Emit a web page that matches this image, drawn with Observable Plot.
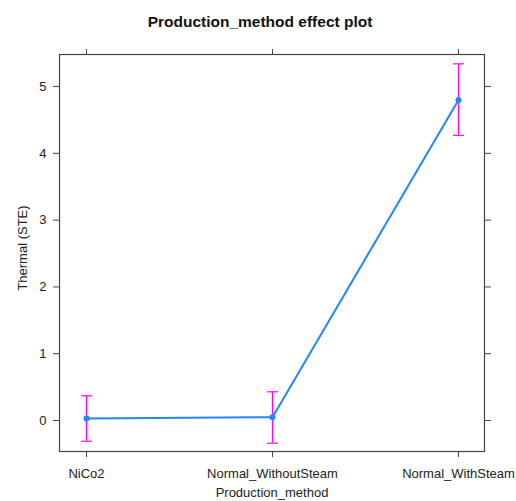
<!DOCTYPE html>
<html><head><meta charset="utf-8">
<script src="https://cdn.jsdelivr.net/npm/d3@7"></script>
<script src="https://cdn.jsdelivr.net/npm/@observablehq/plot@0.6"></script>
<style>
html,body{margin:0;padding:0;background:#fff;}
</style>
</head><body>
<div id="chart"></div>
<script>
const categories = ["NiCo2", "Normal_WithoutSteam", "Normal_WithSteam"];
const fitValues = [0.03, 0.05, 4.80];
const lowerValues = [-0.31, -0.34, 4.27];
const upperValues = [0.37, 0.43, 5.34];
const yTicks = [0, 1, 2, 3, 4, 5];

const data = categories.map((c, i) => ({method: c, fit: fitValues[i], lo: lowerValues[i], hi: upperValues[i]}));

const capSymbol = {draw(ctx, size) { const w = Math.sqrt(size / Math.PI); ctx.moveTo(-w, 0); ctx.lineTo(w, 0); }};

const axisColor = "#444";
const font = "Liberation Sans, Arial, sans-serif";

const chart = Plot.plot({
  width: 516,
  height: 501,
  marginLeft: 59,
  marginRight: 32,
  marginTop: 54,
  marginBottom: 50,
  style: {fontFamily: font, fontSize: "13px", color: "#222", background: "#fff"},
  x: {type: "point", domain: categories, padding: 0.138},
  y: {domain: [-0.464, 5.48]},
  marks: [
    Plot.frame({stroke: axisColor, strokeWidth: 1.2}),
    Plot.axisY(yTicks, {anchor: "left", tickSize: 6, tickPadding: 7, tickFormat: "d", stroke: axisColor, label: null, fontSize: 13}),
    Plot.axisY(yTicks, {anchor: "right", tickSize: 6, tickFormat: () => "", stroke: axisColor, label: null}),
    Plot.axisX(categories, {anchor: "bottom", tickSize: 6, tickPadding: 11, stroke: axisColor, label: null, fontSize: 13}),
    Plot.axisX(categories, {anchor: "top", tickSize: 6, tickFormat: () => "", stroke: axisColor, label: null}),
    Plot.text(["Thermal (STE)"], {frameAnchor: "left", textAnchor: "middle", rotate: -90, dx: -37, dy: -5, fontSize: 13, fill: "#222"}),
    Plot.text(["Production_method"], {frameAnchor: "bottom", dy: 45, fontSize: 13, fill: "#222"}),
    Plot.ruleX(data, {x: "method", y1: "lo", y2: "hi", stroke: "#FF00FF", strokeWidth: 1.2}),
    Plot.dot(data, {x: "method", y: "hi", symbol: capSymbol, r: 5.5, stroke: "#FF00FF", fill: "none", strokeWidth: 1.2}),
    Plot.dot(data, {x: "method", y: "lo", symbol: capSymbol, r: 5.5, stroke: "#FF00FF", fill: "none", strokeWidth: 1.2}),
    Plot.line(data, {x: "method", y: "fit", stroke: "#1E88FF", strokeWidth: 2}),
    Plot.dot(data, {x: "method", y: "fit", r: 3, fill: "#1E88FF", stroke: "none"}),
    Plot.text(["Production_method effect plot"], {frameAnchor: "top", dx: -12, dy: -39, fontWeight: "bold", fontSize: 15.5, fill: "#111"})
  ]
});
document.getElementById("chart").appendChild(chart);
</script>
</body></html>
